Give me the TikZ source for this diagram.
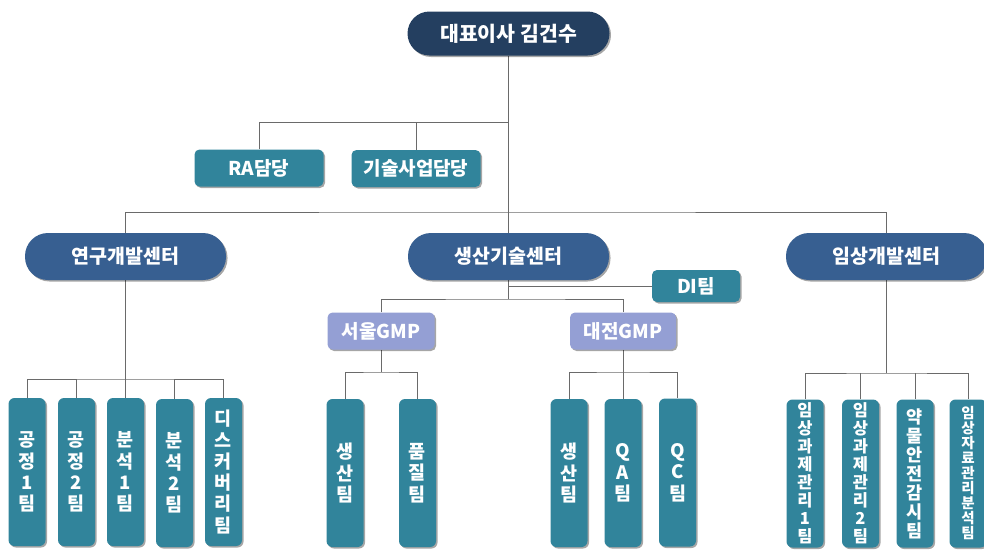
\documentclass[tikz,border=0pt]{standalone}
\usepackage{fontspec}
\setmainfont{Noto Sans CJK KR}
\usetikzlibrary{shadows,backgrounds}
\definecolor{navybox}{HTML}{243F60}
\definecolor{bluebox}{HTML}{375F91}
\definecolor{tealbox}{HTML}{31849B}
\definecolor{gmpbox}{HTML}{949FD4}
\definecolor{linegray}{HTML}{6A6A6A}
\tikzset{
  shad/.style={drop shadow={shadow xshift=1.5pt, shadow yshift=-1.5pt, opacity=0.35, fill=black}},
  topbox/.style={rectangle, rounded corners=22pt, fill=navybox, minimum width=202pt, minimum height=44pt, text=white, font=\fontsize{20.5}{22}\selectfont\bfseries, inner sep=0pt, shad},
  centbox/.style={rectangle, rounded corners=23pt, fill=bluebox, minimum width=201pt, minimum height=47pt, text=white, font=\fontsize{19.5}{22}\selectfont\bfseries, inner sep=0pt, shad},
  tealrect/.style={rectangle, rounded corners=5pt, fill=tealbox, minimum height=37pt, text=white, font=\fontsize{19}{21}\selectfont\bfseries, inner sep=0pt, shad},
  gmprect/.style={rectangle, rounded corners=5pt, fill=gmpbox, minimum width=107pt, minimum height=37pt, text=white, font=\fontsize{19}{21}\selectfont\bfseries, inner sep=0pt, shad},
  vbox/.style={rectangle, rounded corners=6pt, fill=tealbox, minimum width=37pt, minimum height=148pt, text=white, align=center, font=\fontsize{18.5}{21.3}\selectfont\bfseries, inner sep=0pt, shad},
  vboxs/.style={vbox, font=\fontsize{16.5}{18}\selectfont\bfseries},
  vboxm/.style={vbox, font=\fontsize{17.5}{19}\selectfont\bfseries},
  vboxt/.style={vbox, font=\fontsize{14.5}{15}\selectfont\bfseries},
  conn/.style={draw=linegray, line width=0.9pt}
}
\begin{document}
\begin{tikzpicture}[x=1pt,y=-1pt]
\useasboundingbox (0,0) rectangle (984,549);
% nodes
\node[topbox] (top) at (508.5,33.5) {대표이사 김건수};
\node[tealrect, minimum width=129pt] (ra) at (259,168) {RA담당};
\node[tealrect, minimum width=129pt] (tech) at (416,168.5) {기술사업담당};
\node[centbox] (rnd) at (125.5,256.5) {연구개발센터};
\node[centbox] (prod) at (508.5,256.5) {생산기술센터};
\node[centbox] (clin) at (886.5,256.5) {임상개발센터};
\node[tealrect, minimum width=88pt, minimum height=32pt] (di) at (696,286) {DI팀};
\node[gmprect] (seoul) at (381,331) {서울GMP};
\node[gmprect, minimum width=106pt] (daejeon) at (623,331) {대전GMP};
% bottom boxes
\node[vbox] (a1) at (27,472) {공\\정\\1\\팀};
\node[vbox] (a2) at (76.5,472) {공\\정\\2\\팀};
\node[vbox] (a3) at (125.5,472) {분\\석\\1\\팀};
\node[vbox] (a4) at (174.5,473) {분\\석\\2\\팀};
\node[vbox] (a5) at (223.5,472) {디\\스\\커\\버\\리\\팀};
\node[vbox] (s1) at (345,473) {생\\산\\팀};
\node[vbox] (s2) at (417.5,473) {품\\질\\팀};
\node[vbox] (d1) at (569,473) {생\\산\\팀};
\node[vbox] (d2) at (623,473) {Q\\A\\팀};
\node[vbox] (d3) at (677.5,472.5) {Q\\C\\팀};
\node[vboxs] (c1) at (805,473.5) {임\\상\\과\\제\\관\\리\\1\\팀};
\node[vboxs] (c2) at (860.5,473.5) {임\\상\\과\\제\\관\\리\\2\\팀};
\node[vboxm] (c3) at (915,473.5) {약\\물\\안\\전\\감\\시\\팀};
\node[vboxt] (c4) at (968,473.5) {임\\상\\자\\료\\관\\리\\분\\석\\팀};
% junction coordinates
\coordinate (j1) at (508.5,122);
\coordinate (j2) at (508.5,212);
\coordinate (j3) at (508.5,299);
\coordinate (ja) at (125.5,379);
\coordinate (js) at (381,372);
\coordinate (jd) at (623,372);
\coordinate (jc) at (886.5,373);
% connectors
\begin{scope}[on background layer]
\draw[conn] (top.south) -- (prod.north);
\draw[conn] (ra.north) |- (j1);
\draw[conn] (tech.north) -- (tech.north |- j1);
\draw[conn] (rnd.north) |- (j2) -| (clin.north);
\draw[conn] (prod.south) -- (j3);
\draw[conn] (prod.south |- di.west) -- (di.west);
\draw[conn] (seoul.north) |- (j3) -| (daejeon.north);
\draw[conn] (rnd.south) -- (ja);
\draw[conn] (a1.north) |- (ja) -| (a5.north);
\draw[conn] (a2.north) -- (a2.north |- ja);
\draw[conn] (a3.north) -- (ja);
\draw[conn] (a4.north) -- (a4.north |- ja);
\draw[conn] (seoul.south) -- (js);
\draw[conn] (s1.north) |- (js) -| (s2.north);
\draw[conn] (daejeon.south) -- (jd);
\draw[conn] (d1.north) |- (jd) -| (d3.north);
\draw[conn] (d2.north) -- (jd);
\draw[conn] (clin.south) -- (jc);
\draw[conn] (c1.north) |- (jc) -| (c4.north);
\draw[conn] (c2.north) -- (c2.north |- jc);
\draw[conn] (c3.north) -- (c3.north |- jc);
\end{scope}
\end{tikzpicture}
\end{document}
